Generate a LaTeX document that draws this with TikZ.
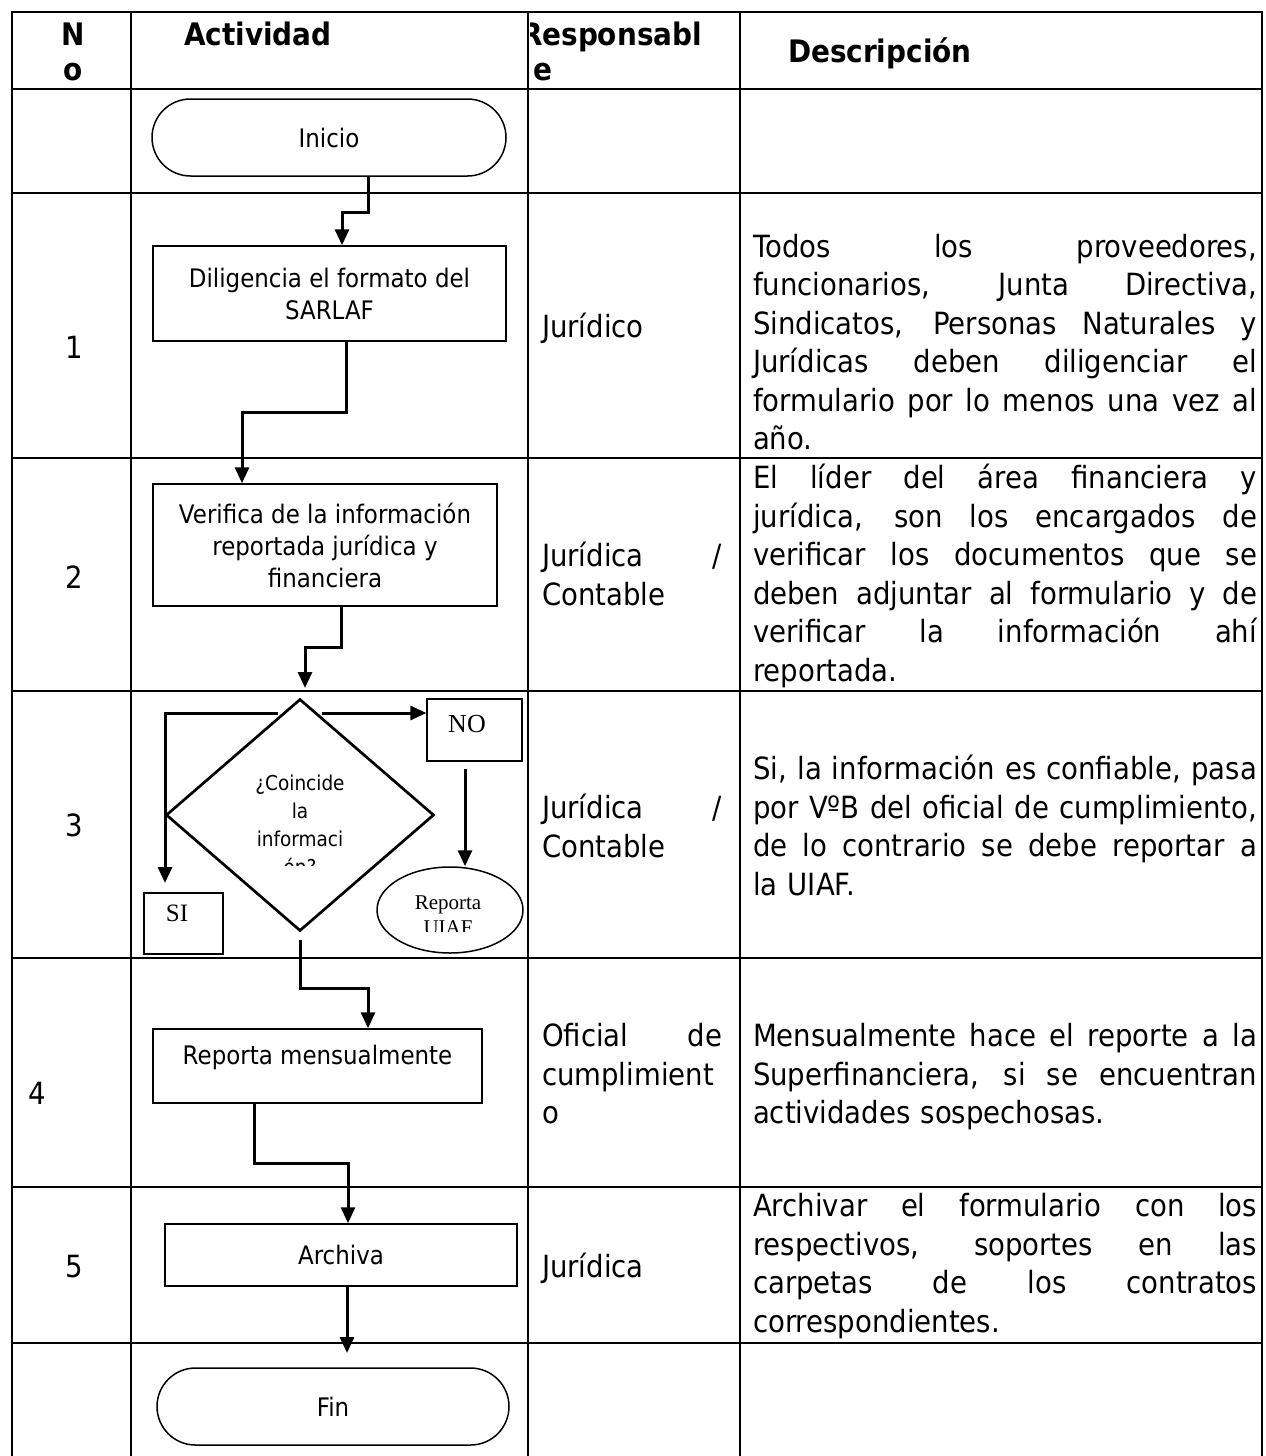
\documentclass[tikz,border=0pt]{standalone}
\usepackage{fontspec}
\setmainfont{DejaVu Sans}[FakeStretch=0.9]
\newfontfamily\serifrm{Liberation Serif}
\usetikzlibrary{arrows.meta,shapes.geometric,calc}
\newcommand\setfs[2]{\fontsize{#1pt}{#2pt}\selectfont}
\newcommand\jd[1]{\leavevmode\hbox to 252pt{\spaceskip=0.25em plus 1fil\relax #1}}
\newcommand\jr[1]{\leavevmode\hbox to 90pt{\spaceskip=0.25em plus 1fil\relax #1}}
\begin{document}
\begin{tikzpicture}[x=0.5pt,y=-0.5pt,
  tbl/.style={line width=1.45pt, line cap=rect},
  conn/.style={line width=1.5pt, -{Triangle[length=8pt,width=7pt]}},
  txt/.style={inner sep=0pt, outer sep=0pt},
  hdr/.style={txt, font=\bfseries\setfs{15.5}{19.5}},
  cell/.style={txt, font=\setfs{15.3}{19.25}, align=left},
  act/.style={draw, line width=0.75pt, inner sep=2pt, align=center, font=\setfs{12.75}{16}},
  term/.style={act, rounded corners=19.25pt},
  smallbox/.style={draw, line width=0.65pt, inner sep=0pt},
  sertxt/.style={txt, font=\serifrm\setfs{11}{13}}
]
\useasboundingbox (0,0) rectangle (1265,1456);

% table
\foreach \y in {12,89,193,458,691,958,1187,1343} \draw[tbl] (12,\y) -- (1262,\y);
\foreach \x in {12,131,528,740,1262} \draw[tbl] (\x,12) -- (\x,1456);

% header
\node[hdr, anchor=base] (hN) at (73,45) {N};
\node[hdr, anchor=base] (ho) at (73,80) {o};
\node[hdr, anchor=base west] (hAct) at (184,45) {Actividad};
\begin{scope}
  \clip (530,14) rectangle (739,88);
  \node[hdr, anchor=base west] (hResp) at (521,45) {Responsabl};
  \node[hdr, anchor=base west] (hResp2) at (533,80) {e};
\end{scope}
\node[hdr, anchor=base west] (hDesc) at (788,62) {Descripción};

% numbers
\node[cell, anchor=base] (n1) at (74,358) {1};
\node[cell, anchor=base] (n2) at (74,588) {2};
\node[cell, anchor=base] (n3) at (74,836) {3};
\node[cell, anchor=base west] (n4) at (28,1104) {4};
\node[cell, anchor=base] (n5) at (74,1277) {5};

% responsables
\node[cell, anchor=base west] (r1) at (542,337) {Jurídico};
\node[cell, text width=90pt, anchor=north west] (r2) at (542,539.7) {\noindent\strut\jr{Jurídica /}\\Contable};
\node[cell, text width=90pt, anchor=north west] (r3) at (542,791.7) {\noindent\strut\jr{Jurídica /}\\Contable};
\node[cell, text width=90pt, anchor=north west] (r4) at (542,1019.7) {\noindent\strut\jr{Oficial de}\\cumplimient\\o};
\node[cell, anchor=base west] (r5) at (542,1277) {Jurídica};

% descripciones
\node[cell, text width=252pt, anchor=north west] (d1) at (753,230.3) {\noindent\strut\jd{Todos los proveedores,}\\
\jd{funcionarios, Junta Directiva,}\\
\jd{Sindicatos, Personas Naturales y}\\
\jd{Jurídicas deben diligenciar el}\\
\jd{formulario por lo menos una vez al}\\
año.};
\node[cell, text width=252pt, anchor=north west] (d2) at (753,461.7) {\noindent\strut\jd{El líder del área financiera y}\\
\jd{jurídica, son los encargados de}\\
\jd{verificar los documentos que se}\\
\jd{deben adjuntar al formulario y de}\\
\jd{verificar la información ahí}\\
reportada.};
\node[cell, text width=252pt, anchor=north west] (d3) at (753,752.7) {\noindent\strut\jd{Si, la información es confiable, pasa}\\
\jd{por VºB del oficial de cumplimiento,}\\
\jd{de lo contrario se debe reportar a}\\
la UIAF.};
\node[cell, text width=252pt, anchor=north west] (d4) at (753,1019.7) {\noindent\strut\jd{Mensualmente hace el reporte a la}\\
\jd{Superfinanciera, si se encuentran}\\
actividades sospechosas.};
\node[cell, text width=252pt, anchor=north west] (d5) at (753,1189.7) {\noindent\strut\jd{Archivar el formulario con los}\\
\jd{respectivos, soportes en las}\\
\jd{carpetas de los contratos}\\
correspondientes.};

% flowchart nodes
\node[term, minimum width=177pt, minimum height=38.5pt] (inicio) at (329,137.5) {Inicio};
\node[act, minimum width=176.5pt, minimum height=47.5pt] (dilig) at (329.5,293.5) {Diligencia el formato del\\SARLAF};
\node[act, minimum width=172pt, minimum height=61pt] (verif) at (325,545) {Verifica de la información\\reportada jurídica y\\financiera};
\node[draw, shape=diamond, line width=1.35pt, minimum width=134pt, minimum height=116pt, inner sep=0pt] (dec) at (300,815) {};
\begin{scope}
  \clip (170,700) rectangle (430,865);
  \node[txt, align=center, font=\setfs{10.25}{14}] (dectext) at (300,824.5) {¿Coincide\\la\\informaci\\ón?};
\end{scope}
\node[smallbox, minimum width=47.5pt, minimum height=31pt] (nobox) at (474.5,730) {};
\node[sertxt, font=\serifrm\setfs{13}{15}] (notext) at (467,724) {NO};
\node[smallbox, minimum width=39.5pt, minimum height=30.5pt] (sibox) at (183.5,923.5) {};
\node[sertxt, font=\serifrm\setfs{12.5}{14}] (sitext) at (177,913) {SI};
\node[draw, ellipse, line width=0.75pt, minimum width=73pt, minimum height=43pt, inner sep=0pt] (uiaf) at (450,910) {};
\begin{scope}
  \clip (375,860) rectangle (525,931);
  \node[txt, align=center, font=\serifrm\setfs{10.5}{12.5}] (uiaftext) at (448,915.5) {Reporta\\UIAF};
\end{scope}
\node[act, minimum width=164.5pt, minimum height=37pt, text depth=11pt] (mens) at (317.5,1066) {Reporta mensualmente};
\node[act, minimum width=176pt, minimum height=31pt] (arch) at (341,1255) {Archiva};
\node[term, minimum width=176pt, minimum height=38.5pt] (fin) at (333,1406.5) {Fin};

% connectors
\coordinate (a3) at (305,688);
\coordinate (lb) at (278,713);
\coordinate (lbe) at (165,883);
\coordinate (rb) at (322,713);
\coordinate (nu) at (465,769);
\coordinate (db) at (300,940);
\coordinate (af) at (347,1353);

\draw[conn] ([xshift=19.8pt]inicio.south) -- ++(0,36) -| ([xshift=6.25pt]dilig.north);
\draw[conn] ([xshift=8.25pt]dilig.south) -- ++(0,71) -| ([xshift=-41.5pt]verif.north);
\draw[conn] ([xshift=8pt]verif.south) -- ++(0,41) -| (a3);
\draw[conn] (lb) -| (lbe);
\draw[conn] (rb) -- (rb -| nobox.west);
\draw[conn] (nu) -- (nu |- uiaf.north);
\draw[conn] (db) -- ++(0,48) -| ([xshift=25.25pt]mens.north);
\draw[conn] ([xshift=-31.75pt]mens.south) -- ++(0,60) -| ([xshift=3.5pt]arch.north);
\draw[conn] ([xshift=3pt]arch.south) -- (af);
\end{tikzpicture}
\end{document}
